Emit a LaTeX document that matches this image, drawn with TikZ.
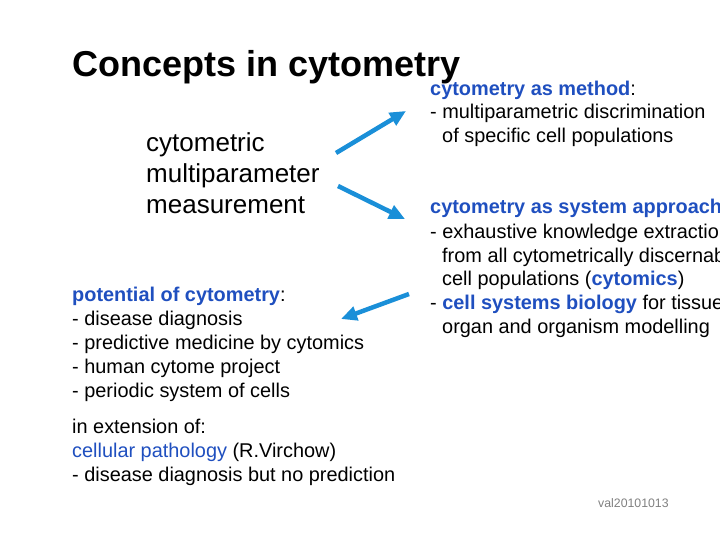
\documentclass[tikz,border=0pt]{standalone}
\usepackage{fontspec}
\setmainfont{Liberation Sans}
\usetikzlibrary{arrows.meta}
\definecolor{tblue}{HTML}{1F4FBF}
\definecolor{ablue}{HTML}{1A8FD8}
\begin{document}
\begin{tikzpicture}[x=1pt,y=-1pt,
  tx/.style={anchor=base west,inner sep=0pt,font=\fontsize{19.9}{24}\selectfont},
  big/.style={anchor=base west,inner sep=0pt,font=\fontsize{26}{30}\selectfont},
  arr/.style={ablue,line width=4.5pt,-{Triangle[length=16pt,width=14pt]}}]
\useasboundingbox (0,0) rectangle (720,540);
\clip (0,0) rectangle (720,540);
\node[anchor=base west,inner sep=0pt,font=\fontsize{36}{40}\selectfont\bfseries] (title) at (72,77) {Concepts in cytometry};
\node[big] (m1) at (146,152) {cytometric};
\node[big] (m2) at (146,183) {multiparameter};
\node[big] (m3) at (146,214) {measurement};
\node[tx] (r1) at (430,96) {\textcolor{tblue}{\bfseries cytometry as method}:};
\node[tx] (r2) at (430,119) {- multiparametric discrimination};
\node[tx] (r3) at (442,143) {of specific cell populations};
\node[tx] (s1) at (430,214) {\textcolor{tblue}{\bfseries cytometry as system approach}};
\node[tx] (s2) at (430,238) {- exhaustive knowledge extraction};
\node[tx] (s3) at (442,262) {from all cytometrically discernable};
\node[tx] (s4) at (442,285) {cell populations (\textcolor{tblue}{\bfseries cytomics})};
\node[tx] (s5) at (430,309) {- \textcolor{tblue}{\bfseries cell systems biology} for tissue,};
\node[tx] (s6) at (442,333) {organ and organism modelling};
\node[tx] (p1) at (72,301) {\textcolor{tblue}{\bfseries potential of cytometry}:};
\node[tx] (p2) at (72,325) {- disease diagnosis};
\node[tx] (p3) at (72,349) {- predictive medicine by cytomics};
\node[tx] (p4) at (72,373) {- human cytome project};
\node[tx] (p5) at (72,397) {- periodic system of cells};
\node[tx] (e1) at (72,433) {in extension of:};
\node[tx] (e2) at (72,457) {\textcolor{tblue}{cellular pathology} (R.Virchow)};
\node[tx] (e3) at (72,481) {- disease diagnosis but no prediction};
\node[anchor=base west,inner sep=0pt,font=\fontsize{12.3}{13}\selectfont,text=gray] (v) at (598,507) {val20101013};
\coordinate (a1s) at (336,153); \coordinate (a1e) at (406,111);
\coordinate (a2s) at (338,186); \coordinate (a2e) at (405,219);
\coordinate (a3s) at (409,294); \coordinate (a3e) at (341,319);
\draw[arr] (a1s) -- (a1e);
\draw[arr] (a2s) -- (a2e);
\draw[arr] (a3s) -- (a3e);
\end{tikzpicture}
\end{document}
